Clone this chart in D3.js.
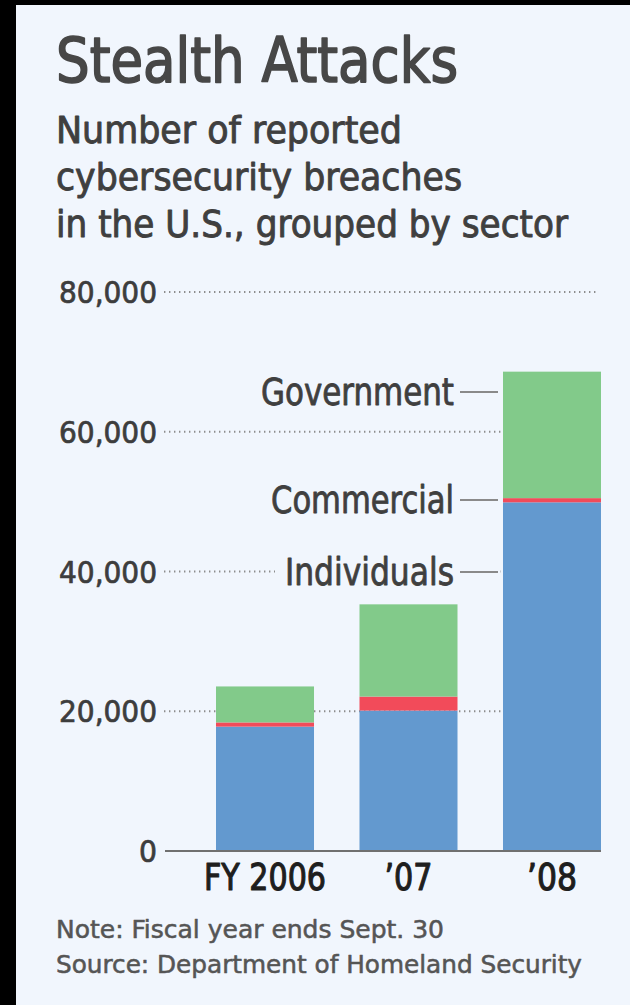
<!DOCTYPE html>
<html>
<head>
<meta charset="utf-8">
<script src="https://cdn.jsdelivr.net/npm/d3@7"></script>
<style>
  html, body { margin: 0; padding: 0; background: #000; }
  svg { display: block; }
  text { font-family: "DejaVu Sans Condensed", "Liberation Sans Narrow", "DejaVu Sans", sans-serif; }
</style>
</head>
<body>
<svg id="chart"></svg>
<script>
const years = ["FY 2006", "\u201907", "\u201908"];
const individuals = [17800, 20100, 49900];
const commercial = [600, 2000, 600];
const government = [5150, 13200, 18100];
const y_ticks = [0, 20000, 40000, 60000, 80000];
const sectors = ["Individuals", "Commercial", "Government"];
const subtitle_lines = ["Number of reported", "cybersecurity breaches", "in the U.S., grouped by sector"];
const notes = ["Note: Fiscal year ends Sept. 30", "Source: Department of Homeland Security"];

const W = 630, H = 1005;
const bg = "#f1f6fd";
const colors = {Individuals: "#6399cf", Commercial: "#f24b5a", Government: "#82ca8a"};

// squeeze a text to the measured width in the reference, and thicken it a little
function fit(sel, w, weight) {
    sel.attr("textLength", w).attr("lengthAdjust", "spacingAndGlyphs");
    if (weight) {
        sel.attr("stroke", sel.attr("fill")).attr("stroke-width", weight)
            .attr("stroke-linejoin", "round");
    }
}

function get_svg() {
    const svg = d3.select("#chart").attr("width", W).attr("height", H);
    svg.append("rect").attr("width", W).attr("height", H).attr("fill", "#000");
    svg.append("rect").attr("x", 16).attr("y", 5).attr("width", W - 16).attr("height", H - 5).attr("fill", bg);
    return svg;
}

function draw_header(svg) {
    svg.append("text").attr("x", 56).attr("y", 82)
        .attr("font-size", 62).attr("fill", "#474747")
        .text("Stealth Attacks").call(fit, 402, 1.6);

    const widths = [346, 406, 512];
    subtitle_lines.forEach((line, i) => {
        svg.append("text").attr("x", 56).attr("y", 143 + i * 47)
            .attr("font-size", 38).attr("fill", "#3f3f3f")
            .text(line).call(fit, widths[i], 0.9);
    });
}

function draw_chart(svg) {
    const x = d3.scaleBand().domain(years).range([216, 601]).paddingInner(0.317).paddingOuter(0);
    const y = d3.scaleLinear().domain([0, 80000]).range([851, 292]);

    const rows = years.map((yr, i) => ({
        year: yr,
        Individuals: individuals[i],
        Commercial: commercial[i],
        Government: government[i]
    }));
    const stacked = d3.stack().keys(sectors)(rows);

    // dotted gridlines behind the bars
    svg.append("g").selectAll("line")
        .data(y_ticks.filter(d => d > 0))
        .enter().append("line")
        .attr("x1", 164).attr("x2", 599)
        .attr("y1", d => y(d)).attr("y2", d => y(d))
        .attr("stroke", "#8c8c8c").attr("stroke-width", 2)
        .attr("stroke-dasharray", "1.4 3.6");

    // tick labels
    svg.append("g").selectAll("text")
        .data(y_ticks)
        .enter().append("text")
        .attr("x", 157).attr("y", d => y(d))
        .attr("text-anchor", "end").attr("dominant-baseline", "central")
        .attr("font-size", 31).attr("fill", "#3d3d3d")
        .text(d => d3.format(",")(d))
        .each(function(d) {
            if (d > 0) d3.select(this).call(fit, 98, 0.7);
            else d3.select(this).call(fit, 18, 0.7);
        });

    // bars
    svg.append("g").selectAll("g")
        .data(stacked)
        .enter().append("g")
        .attr("fill", d => colors[d.key])
        .selectAll("rect")
        .data(d => d)
        .enter().append("rect")
        .attr("x", d => x(d.data.year))
        .attr("width", x.bandwidth())
        .attr("y", d => y(d[1]))
        .attr("height", d => y(d[0]) - y(d[1]));

    // baseline
    svg.append("line")
        .attr("x1", 165).attr("x2", 601)
        .attr("y1", y(0)).attr("y2", y(0))
        .attr("stroke", "#707070").attr("stroke-width", 2);

    // year labels
    const year_widths = [122, 48, 50];
    svg.append("g").selectAll("text")
        .data(years)
        .enter().append("text")
        .attr("x", d => x(d) + x.bandwidth() / 2)
        .attr("y", 890)
        .attr("text-anchor", "middle")
        .attr("font-size", 37).attr("fill", "#1e1e1e")
        .text(d => d)
        .each(function(d, i) { d3.select(this).call(fit, year_widths[i], 1.1); });

    // sector labels, pointing at the last bar
    const label_y = {Government: 392, Commercial: 500, Individuals: 572};
    const label_w = {Government: 193, Commercial: 183, Individuals: 169};
    const lg = svg.append("g").selectAll("g")
        .data(sectors)
        .enter().append("g");
    lg.append("rect")
        .attr("x", d => 454 - label_w[d] - 10).attr("y", d => label_y[d] - 18)
        .attr("width", d => label_w[d] + 56).attr("height", 36)
        .attr("fill", bg);
    lg.append("text")
        .attr("x", 454).attr("y", d => label_y[d])
        .attr("text-anchor", "end").attr("dominant-baseline", "central")
        .attr("font-size", 37).attr("fill", "#3f3f3f")
        .text(d => d)
        .each(function(d) { d3.select(this).call(fit, label_w[d], 0.8); });
    lg.append("line")
        .attr("x1", 460).attr("x2", 498)
        .attr("y1", d => label_y[d]).attr("y2", d => label_y[d])
        .attr("stroke", "#8a8a8a").attr("stroke-width", 2);
}

function draw_notes(svg) {
    const widths = [388, 526];
    notes.forEach((line, i) => {
        svg.append("text").attr("x", 56).attr("y", 938 + i * 35)
            .attr("font-size", 25).attr("fill", "#555")
            .text(line).call(fit, widths[i], 0.5);
    });
}

const svg = get_svg();
draw_header(svg);
draw_chart(svg);
draw_notes(svg);
</script>
</body>
</html>
